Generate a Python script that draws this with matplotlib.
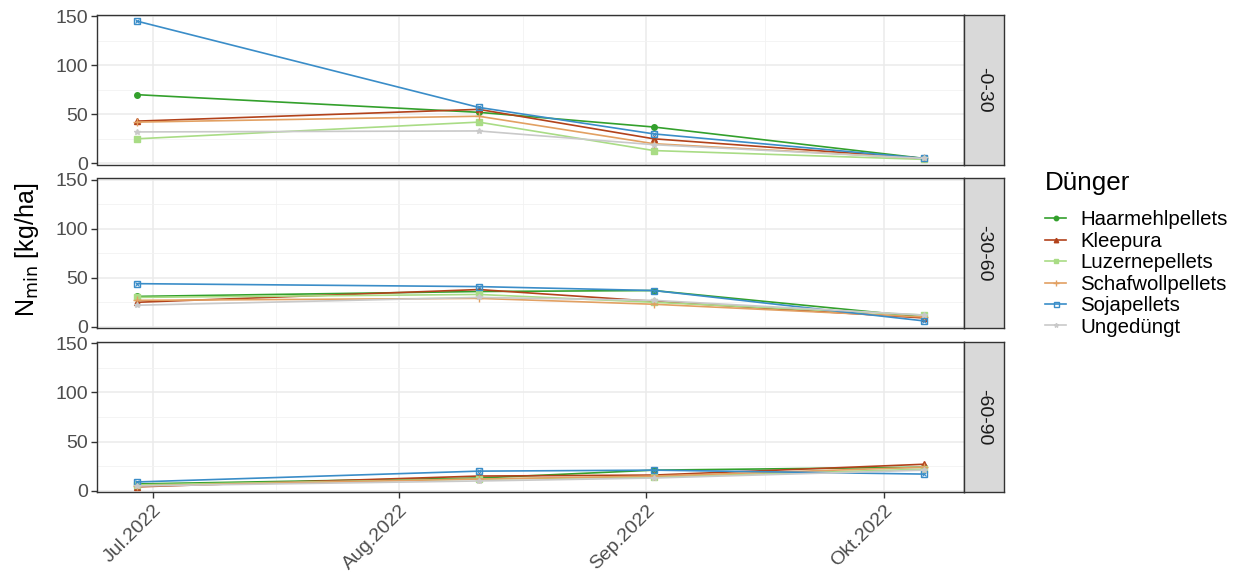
import numpy as np
import matplotlib
matplotlib.use("Agg")
import matplotlib.pyplot as plt
import matplotlib.dates as mdates
from datetime import date

plt.rcParams["font.family"] = ["Liberation Sans", "DejaVu Sans"]

# sampling dates
dates = [date(2022, 6, 29), date(2022, 8, 11), date(2022, 9, 2), date(2022, 10, 6)]
depths = ["-0-30", "-30-60", "-60-90"]
fertilizers = ["Haarmehlpellets", "Kleepura", "Luzernepellets",
               "Schafwollpellets", "Sojapellets", "Ungedüngt"]

# Nmin values per depth (rows) and date (columns)
haarmehl = [[70, 52, 37, 5], [31, 36, 37, 10], [7, 13, 21, 24]]
kleepura = [[43, 55, 25, 5], [25, 38, 26, 9], [4, 15, 16, 27]]
luzerne = [[25, 42, 13, 4], [30, 33, 25, 12], [6, 12, 14, 22]]
schafwoll = [[42, 48, 20, 5], [27, 29, 23, 10], [5, 12, 15, 24]]
soja = [[145, 57, 30, 5], [44, 41, 37, 6], [9, 20, 21, 17]]
ungeduengt = [[32, 33, 19, 5], [22, 30, 27, 12], [5, 10, 13, 21]]

series = [haarmehl, kleepura, luzerne, schafwoll, soja, ungeduengt]
colors = ["#33a02c", "#b2421b", "#a9dc85", "#e2a062", "#3a8dc8", "#c9c9c9"]
markers = ["o", "^", "s", "+", "s", "*"]

W, H = 1239, 578
fig = plt.figure(figsize=(W / 100, H / 100), dpi=100)

left, right = 97, 964
strip_w = 40
panels = [(15, 164.5), (178.5, 328), (342, 492)]

xlim = (mdates.date2num(date(2022, 6, 24)), mdates.date2num(date(2022, 10, 11)))
majors = [mdates.date2num(date(2022, m, 1)) for m in (7, 8, 9, 10)]
minors = [(a + b) / 2 for a, b in zip(majors[:-1], majors[1:])]
xdates = mdates.date2num(dates)

handles = []
for p, (top, bot) in enumerate(panels):
    ax = fig.add_axes([left / W, 1 - bot / H, (right - left) / W, (bot - top) / H])
    ax.set_facecolor("white")
    for i, vals in enumerate(series):
        y = vals[p]
        if i == 4:
            ln, = ax.plot(xdates, y, color=colors[i], lw=1.2, marker="s",
                          markersize=4.5, fillstyle="none", mew=1)
            ax.plot(xdates, y, color=colors[i], lw=0, marker="x",
                    markersize=3.5, mew=0.8)
        elif i == 3:
            ln, = ax.plot(xdates, y, color=colors[i], lw=1.2, marker="+",
                          markersize=6, mew=1)
        else:
            ln, = ax.plot(xdates, y, color=colors[i], lw=1.2, marker=markers[i],
                          markersize=4)
        if p == 0:
            handles.append(ln)
    ax.set_xlim(*xlim)
    ax.set_ylim(-1.2, 151.2)
    ax.set_yticks([0, 50, 100, 150])
    ax.set_yticks([25, 75, 125], minor=True)
    ax.set_xticks(majors)
    ax.set_xticks(minors, minor=True)
    ax.grid(which="major", color="#ebebeb", lw=1.1)
    ax.grid(which="minor", color="#f2f2f2", lw=0.6)
    ax.set_axisbelow(True)
    for s in ax.spines.values():
        s.set_color("#333333")
        s.set_linewidth(1.0)
    ax.tick_params(axis="y", which="major", labelsize=14, labelcolor="#4d4d4d",
                   color="#333333", length=4, width=1, pad=2.5)
    ax.tick_params(which="minor", length=0)
    if p < 2:
        ax.tick_params(axis="x", which="major", length=0, labelbottom=False)
    else:
        ax.set_xticklabels(["Jul.2022", "Aug.2022", "Sep.2022", "Okt.2022"],
                           rotation=45, ha="right", rotation_mode="anchor")
        ax.tick_params(axis="x", which="major", labelsize=14, labelcolor="#4d4d4d",
                       color="#333333", length=4, width=1, pad=3)

    # facet strip on the right
    sax = fig.add_axes([right / W, 1 - bot / H, strip_w / W, (bot - top) / H])
    sax.set_facecolor("#d9d9d9")
    sax.set_xticks([])
    sax.set_yticks([])
    for s in sax.spines.values():
        s.set_color("#333333")
        s.set_linewidth(1.0)
    sax.text(0.5, 0.5, depths[p], rotation=-90, ha="center", va="center",
             fontsize=14, color="#1a1a1a", transform=sax.transAxes)

fig.text(27 / W, 1 - 250 / H, r"N$_{\mathrm{min}}$ [kg/ha]", rotation=90,
         ha="center", va="center", fontsize=18)

# legend title drawn separately to get ggplot-like spacing
fig.text(1045 / W, 1 - 190 / H, "Dünger", ha="left", va="baseline",
         fontsize=18.7)
fig.legend(handles, fertilizers, loc="upper left",
           bbox_to_anchor=(1027 / W, 1 - 192 / H), frameon=False,
           fontsize=14.7, handlelength=1.0, handletextpad=0.7,
           labelspacing=0.12, markerscale=0.8)

fig.savefig("out.png", dpi=100)
